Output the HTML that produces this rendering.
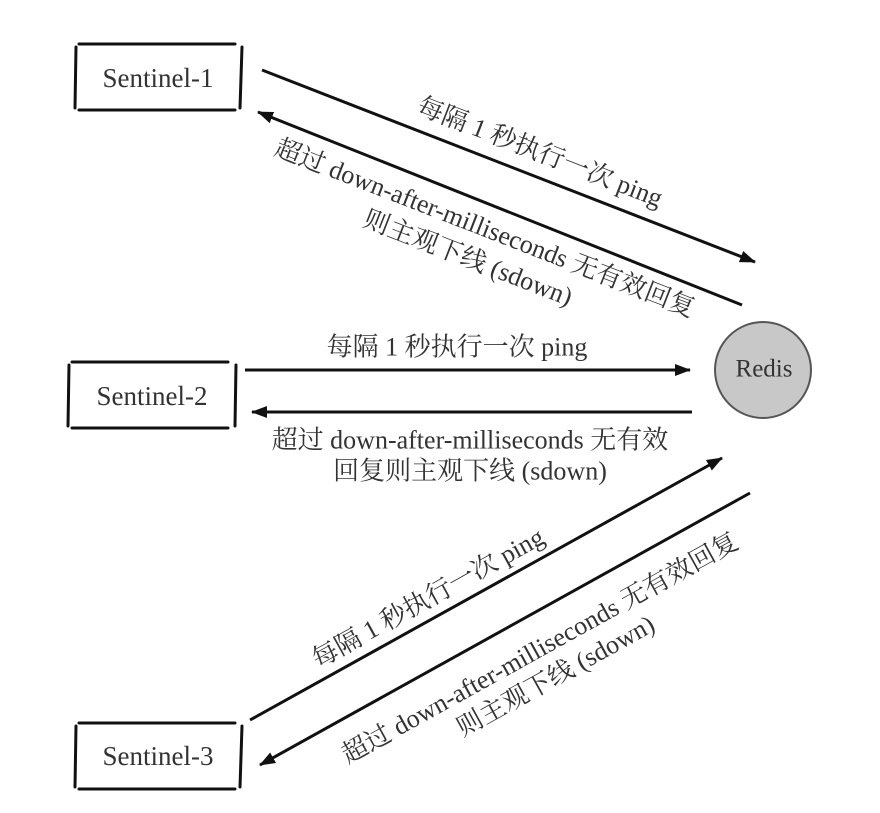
<!DOCTYPE html>
<html><head><meta charset="utf-8"><style>
body{margin:0;background:#fff;}
svg text{font-family:"Liberation Serif","Noto Serif CJK SC",serif;font-size:26px;fill:#333;dominant-baseline:central;}
</style></head><body>
<svg width="880" height="808" viewBox="0 0 880 808" xmlns="http://www.w3.org/2000/svg">
<defs>
<marker id="ah2" markerWidth="16" markerHeight="12" refX="15" refY="6" orient="auto" markerUnits="userSpaceOnUse"><path d="M0,0 L16,6 L0,12 z" fill="#111"/></marker></defs>
<g stroke="#111" stroke-width="3" fill="none" stroke-linecap="round">
<path d="M79,44 L235,44 M79,110 L235,110 M76,47 L75,108 M242,47 L240,108"/>
<path d="M72,362 L228,362 M72,428 L228,428 M69,365 L68,426 M236,365 L235,426"/>
<path d="M79,723 L235,723 M79,789 L235,789 M76,726 L75,787 M242,726 L240,787"/>
</g>
<text x="158" y="78" text-anchor="middle" style="font-size:27px">Sentinel-1</text>
<text x="152" y="396" text-anchor="middle" style="font-size:27px">Sentinel-2</text>
<text x="158" y="756" text-anchor="middle" style="font-size:27px">Sentinel-3</text>
<circle cx="763" cy="370" r="48" fill="#c8c8c8" stroke="#555" stroke-width="2"/>
<text x="764" y="369" text-anchor="middle" style="font-size:25px">Redis</text>
<g stroke="#111" stroke-width="3">
<line x1="262" y1="70" x2="755" y2="262" marker-end="url(#ah2)"/>
<line x1="742" y1="305" x2="258" y2="112" marker-end="url(#ah2)"/>
<line x1="245" y1="370" x2="690" y2="370" marker-end="url(#ah2)"/>
<line x1="692" y1="412" x2="252" y2="412" marker-end="url(#ah2)"/>
<line x1="250" y1="720" x2="722" y2="458" marker-end="url(#ah2)"/>
<line x1="750" y1="493" x2="260" y2="765" marker-end="url(#ah2)"/>
</g>
<g transform="translate(540,152) rotate(21.3)"><text x="0" y="0" text-anchor="middle">每隔 1 秒执行一次 ping</text></g>
<g transform="translate(485,228) rotate(21.3)"><text x="0" y="0" text-anchor="middle">超过 down-after-milliseconds 无有效回复</text><text x="-5" y="34" text-anchor="middle">则主观下线 (sdown)</text></g>
<text x="457" y="347" text-anchor="middle">每隔 1 秒执行一次 ping</text>
<text x="470" y="440" text-anchor="middle">超过 down-after-milliseconds 无有效</text>
<text x="470" y="471" text-anchor="middle">回复则主观下线 (sdown)</text>
<g transform="translate(428,598) rotate(-29)"><text x="0" y="0" text-anchor="middle">每隔 1 秒执行一次 ping</text></g>
<g transform="translate(540,648) rotate(-29)"><text x="0" y="0" text-anchor="middle">超过 down-after-milliseconds 无有效回复</text><text x="0" y="32" text-anchor="middle">则主观下线 (sdown)</text></g>
</svg>
</body></html>
